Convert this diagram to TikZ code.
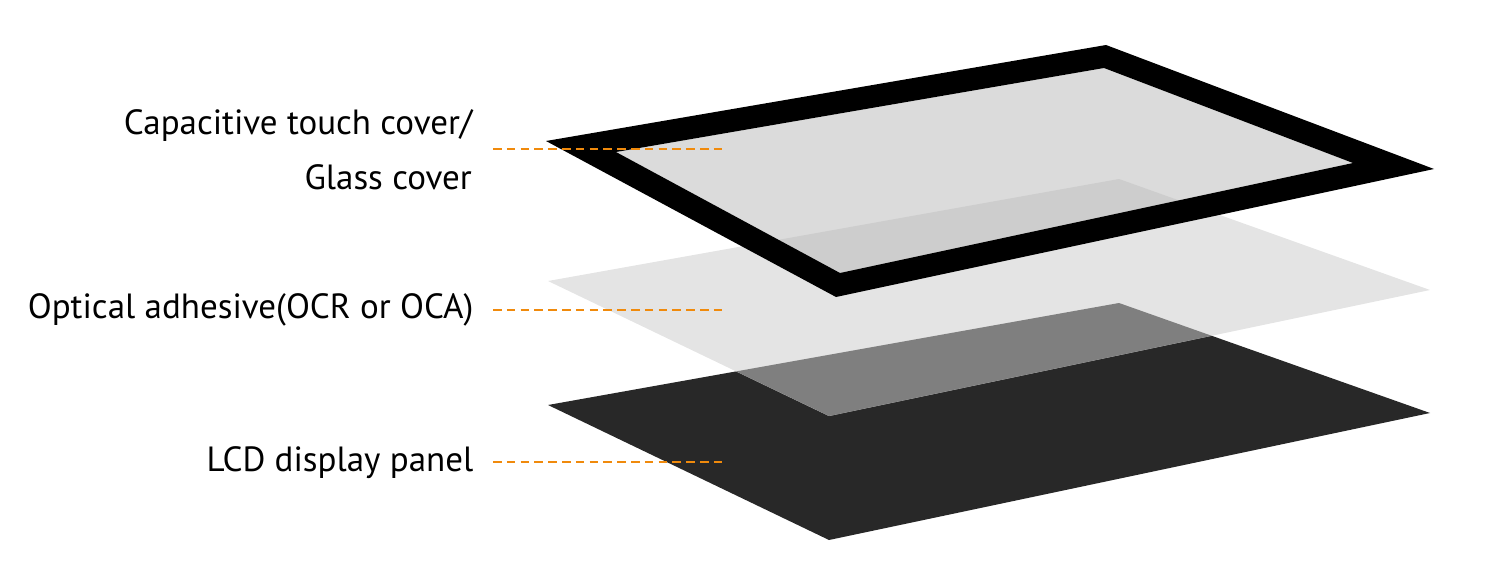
\documentclass[tikz,border=0pt]{standalone}
\usepackage{fontspec}
\setmainfont{PT Sans}
\definecolor{leader}{HTML}{F08A0C}
\definecolor{glass}{HTML}{DBDBDB}
\definecolor{glassover}{HTML}{CDCDCD}
\definecolor{adhesive}{HTML}{E4E4E4}
\definecolor{panel}{HTML}{282828}
\definecolor{panelover}{HTML}{7F7F7F}
\tikzset{
  label text/.style={anchor=base east,inner sep=0pt,font=\fontsize{35pt}{40pt}\selectfont,text=black},
  leader line/.style={draw=leader,line width=2.2pt,dash pattern=on 8.6pt off 5.2pt},
}
\newcommand{\panelshape}{(548,-405) -- (1119,-303) -- (1430,-413) -- (829,-540) -- cycle}
\newcommand{\adhesiveshape}{(548,-281) -- (1119,-179) -- (1430,-290) -- (829,-416) -- cycle}
\newcommand{\glassshape}{(616,-152) -- (1104,-68) -- (1353,-163) -- (840,-273) -- cycle}
\begin{document}
\begin{tikzpicture}[x=1pt,y=1pt]
\useasboundingbox (0,0) rectangle (1501,-583);
% layers
\fill[panel] \panelshape;
\fill[adhesive] \adhesiveshape;
\begin{scope}
  \clip \panelshape;
  \fill[panelover] \adhesiveshape;
\end{scope}
\fill[glass] \glassshape;
\begin{scope}
  \clip \glassshape;
  \fill[glassover] \adhesiveshape;
\end{scope}
\fill[black,even odd rule] (546,-141) -- (1106,-45) -- (1434,-169) -- (836,-297) -- cycle
  (616,-152) -- (1104,-68) -- (1353,-163) -- (840,-273) -- cycle;
% labels
\node[label text] (cap1) at (472.5,-135) {Capacitive touch cover/};
\node[label text] (cap2) at (472,-189) {Glass cover};
\node[label text] (oca) at (473.5,-318) {Optical adhesive(OCR or OCA)};
\node[label text] (lcd) at (473.5,-471.5) {LCD display panel};
% leaders
\coordinate (l1a) at (493,-149); \coordinate (l1b) at (723,-149);
\coordinate (l2a) at (493,-310); \coordinate (l2b) at (723,-310);
\coordinate (l3a) at (493,-462); \coordinate (l3b) at (723,-462);
\draw[leader line] (l1a) -- (l1b);
\draw[leader line] (l2a) -- (l2b);
\draw[leader line] (l3a) -- (l3b);
\end{tikzpicture}
\end{document}
